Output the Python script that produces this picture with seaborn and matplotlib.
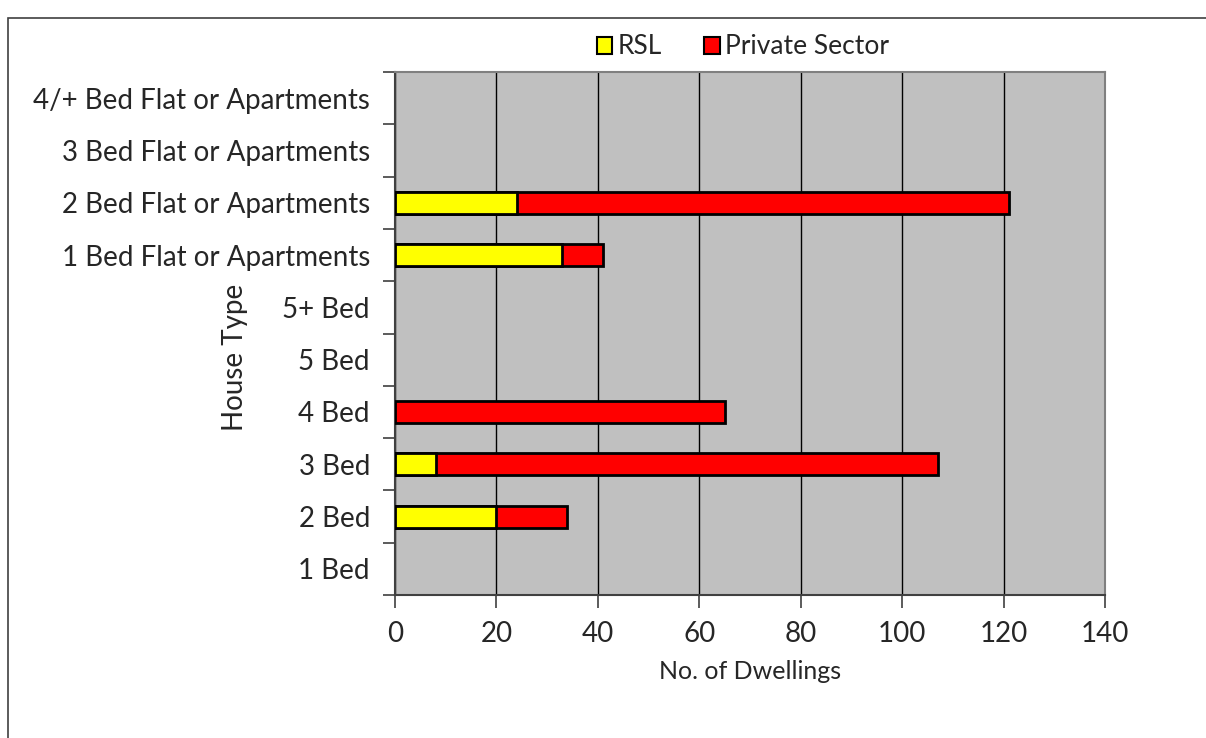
import matplotlib
matplotlib.use("Agg")
from matplotlib import pyplot as plt
from matplotlib.patches import Rectangle, Patch
import pandas as pd
import seaborn as sns

house_types = ['4/+ Bed Flat or Apartments', '3 Bed Flat or Apartments',
               '2 Bed Flat or Apartments', '1 Bed Flat or Apartments',
               '5+ Bed', '5 Bed', '4 Bed', '3 Bed', '2 Bed', '1 Bed']
rsl = [0, 0, 24, 33, 0, 0, 0, 8, 20, 0]
private_sector = [0, 0, 97, 8, 0, 0, 65, 99, 14, 0]

if __name__ == "__main__":
    sns.set_style("white")
    plt.rcParams['font.family'] = ['Lato', 'DejaVu Sans']

    df = pd.DataFrame({'house_type': house_types, 'RSL': rsl,
                       'Private Sector': private_sector})
    df['total'] = df['RSL'] + df['Private Sector']

    fig = plt.figure(figsize=(12.06, 7.38), dpi=100)
    ax = fig.add_axes([395 / 1206, 1 - 595 / 738, 710 / 1206, 523 / 738])
    ax.set_facecolor('#C0C0C0')

    sns.barplot(data=df, x='total', y='house_type', order=house_types, color='#FF0000',
                saturation=1, width=0.42, edgecolor='black', linewidth=2, ax=ax, zorder=3)
    sns.barplot(data=df, x='RSL', y='house_type', order=house_types, color='#FFFF00',
                saturation=1, width=0.42, edgecolor='black', linewidth=2, ax=ax, zorder=3)

    # hide empty bars so no outline sticks out at zero
    for p in ax.patches:
        if p.get_width() == 0:
            p.set_visible(False)

    ax.set_xlim(0, 140)
    ax.set_xticks(range(0, 141, 20))
    ax.grid(axis='x', color='black', linewidth=1, zorder=1)
    ax.set_axisbelow(True)

    # category ticks sit between the bars
    ax.set_yticks([i - 0.5 for i in range(len(house_types) + 1)], minor=True)
    ax.tick_params(axis='y', which='major', left=False, length=0, pad=18, labelsize=20)
    ax.tick_params(axis='y', which='minor', left=True, length=9, width=1.2, color='#404040', direction='out')
    ax.tick_params(axis='x', bottom=True, length=9, width=1.2, color='#404040', direction='out',
                   labelsize=20, pad=10)

    for side in ['top', 'right']:
        ax.spines[side].set_color('#808080')
        ax.spines[side].set_linewidth(1.5)
    for side in ['left', 'bottom']:
        ax.spines[side].set_color('#404040')
        ax.spines[side].set_linewidth(1.5)

    ax.set_xlabel('No. of Dwellings', fontsize=18)
    ax.xaxis.set_label_coords(0.5, -(660 - 595) / 523)
    ax.set_ylabel('House Type', fontsize=20)
    ax.yaxis.set_label_coords(-(395 - 248) / 710, (595 - 357) / 523)

    handles = [Patch(facecolor='#FFFF00', edgecolor='black', linewidth=1.5),
               Patch(facecolor='#FF0000', edgecolor='black', linewidth=1.5)]
    fig.legend(handles, ['RSL', 'Private Sector'], loc='center', bbox_to_anchor=(743 / 1206, 1 - 47 / 738),
               ncol=2, frameon=False, fontsize=19, handlelength=0.6, handleheight=0.6,
               handletextpad=0.2, columnspacing=1.6)

    fig.patches.append(Rectangle((8 / 1206, -0.01), 1.2, 1 - 18 / 738 + 0.01, transform=fig.transFigure,
                                 fill=False, edgecolor='#404040', linewidth=1.2))

    plt.savefig('out.png', dpi=100)
